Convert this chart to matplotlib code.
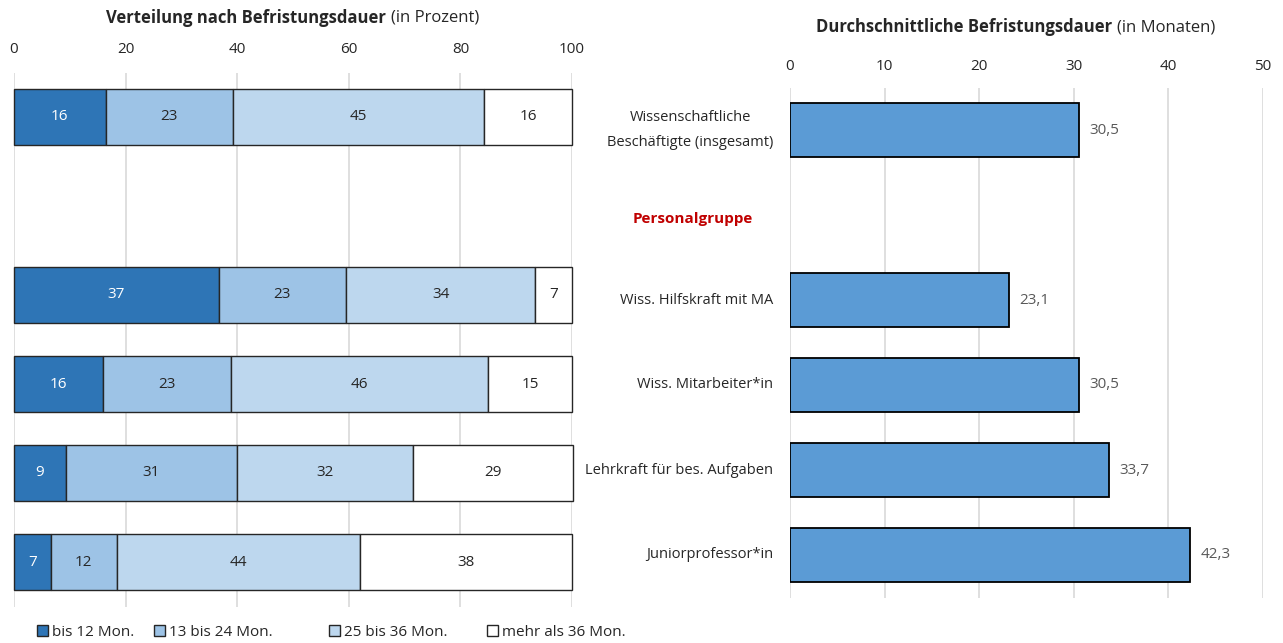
import matplotlib
matplotlib.use("Agg")
import matplotlib.pyplot as plt
from matplotlib.patches import Patch

plt.rcParams['font.family'] = ['Open Sans', 'DejaVu Sans']

# ---- data ----
left_rows = ["Wissenschaftliche Beschäftigte (insgesamt)", "", "Wiss. Hilfskraft mit MA",
             "Wiss. Mitarbeiter*in", "Lehrkraft für bes. Aufgaben", "Juniorprofessor*in"]
seg_labels = ["bis 12 Mon.", "13 bis 24 Mon.", "25 bis 36 Mon.", "mehr als 36 Mon."]
bis12 = [16.4, None, 36.7, 15.9, 9.3, 6.6]
m13_24 = [22.9, None, 22.8, 23.0, 30.6, 11.8]
m25_36 = [44.9, None, 33.9, 46.0, 31.6, 43.6]
mehr36 = [15.8, None, 6.6, 15.1, 28.6, 38.0]

right_labels = ["Wissenschaftliche\nBeschäftigte (insgesamt)", "", "Wiss. Hilfskraft mit MA",
                "Wiss. Mitarbeiter*in", "Lehrkraft für bes. Aufgaben", "Juniorprofessor*in"]
avg_months = [30.5, None, 23.1, 30.5, 33.7, 42.3]

left_ticks = [0, 20, 40, 60, 80, 100]
right_ticks = [0, 10, 20, 30, 40, 50]

seg_colors = ["#2E75B6", "#9DC3E6", "#BDD7EE", "#FFFFFF"]
seg_text = ["white", "#262626", "#262626", "#262626"]
bar_color = "#5B9BD5"
grid_c = "#D9D9D9"
txt_c = "#262626"
FS = 11

W, H = 1283, 643
fig = plt.figure(figsize=(W / 100, H / 100), dpi=100)

def frac(x0, x1, ytop, ybot):
    return [x0 / W, 1 - ybot / H, (x1 - x0) / W, (ybot - ytop) / H]

# ---- left chart ----
axL = fig.add_axes(frac(14, 572, 72.5, 606.5))
n = len(left_rows)
series = [bis12, m13_24, m25_36, mehr36]
for i in range(n):
    if series[0][i] is None:
        continue
    left = 0
    for s, (vals, col, tc) in enumerate(zip(series, seg_colors, seg_text)):
        v = vals[i]
        bars = axL.barh(i, v, left=left, height=0.62, color=col, edgecolor="#262626",
                        linewidth=1.0, zorder=3)
        for b in bars:
            b.set_clip_on(False)
        axL.text(left + v / 2, i, f"{v:.0f}", ha="center", va="center",
                 fontsize=FS, color=tc, zorder=4)
        left += v
axL.set_xlim(0, 100)
axL.set_ylim(n - 0.5, -0.5)
axL.set_xticks(left_ticks)
axL.xaxis.tick_top()
axL.tick_params(axis="x", length=0, pad=11, labelsize=FS, labelcolor=txt_c)
axL.set_yticks([])
axL.grid(axis="x", color=grid_c, linewidth=1.2, zorder=0)
for sp in axL.spines.values():
    sp.set_visible(False)

# ---- right chart ----
axR = fig.add_axes(frac(790, 1263, 87.5, 597.5))
for i, v in enumerate(avg_months):
    if v is None:
        continue
    axR.barh(i, v, height=0.63, color=bar_color, edgecolor="#000000",
             linewidth=1.3, zorder=3)
    axR.text(v + 1.1, i, f"{v:.1f}".replace(".", ","), ha="left", va="center",
             fontsize=FS, color="#595959", zorder=4)
axR.set_xlim(0, 50)
axR.set_ylim(n - 0.5, -0.5)
axR.set_xticks(right_ticks)
axR.xaxis.tick_top()
axR.tick_params(axis="x", length=0, pad=10, labelsize=FS, labelcolor=txt_c)
axR.set_yticks(range(n))
axR.set_yticklabels(right_labels, fontsize=10.5, color=txt_c, multialignment="center",
                    linespacing=1.85, va="center")
axR.tick_params(axis="y", length=0, pad=12)
axR.grid(axis="x", color=grid_c, linewidth=1.2, zorder=0)
for sp in axR.spines.values():
    sp.set_visible(False)
axR.text(-0.205, 1.05, "Personalgruppe", transform=axR.get_yaxis_transform(),
         ha="center", va="center", fontsize=FS, fontweight="bold", color="#C00000")

# ---- titles ----
def title(xc, yc, bold, normal):
    t1 = fig.text(0, 0, bold, fontsize=12, fontweight="bold", color=txt_c)
    t2 = fig.text(0, 0, normal, fontsize=12, color=txt_c)
    fig.canvas.draw()
    r = fig.canvas.get_renderer()
    w1 = t1.get_window_extent(r).width
    w2 = t2.get_window_extent(r).width
    gap = 5
    x0 = xc - (w1 + gap + w2) / 2
    t1.set_position((x0 / W, 1 - yc / H)); t1.set_va("center")
    t2.set_position(((x0 + w1 + gap) / W, 1 - yc / H)); t2.set_va("center")

title(293, 18, "Verteilung nach Befristungsdauer", "(in Prozent)")
title(1016, 27, "Durchschnittliche Befristungsdauer", "(in Monaten)")

# ---- legend (one entry per anchor) ----
leg_x = [37, 154, 329, 487]
for c, lab, x in zip(seg_colors, seg_labels, leg_x):
    h = Patch(facecolor=c, edgecolor="#262626", linewidth=1.0)
    fig.legend([h], [lab], loc="center left", bbox_to_anchor=(x / W, 1 - 632 / H),
               frameon=False, fontsize=FS, handlelength=0.7, handleheight=0.7,
               handletextpad=0.25, borderaxespad=0, borderpad=0, labelcolor=txt_c)

fig.savefig("out.png", dpi=100)
